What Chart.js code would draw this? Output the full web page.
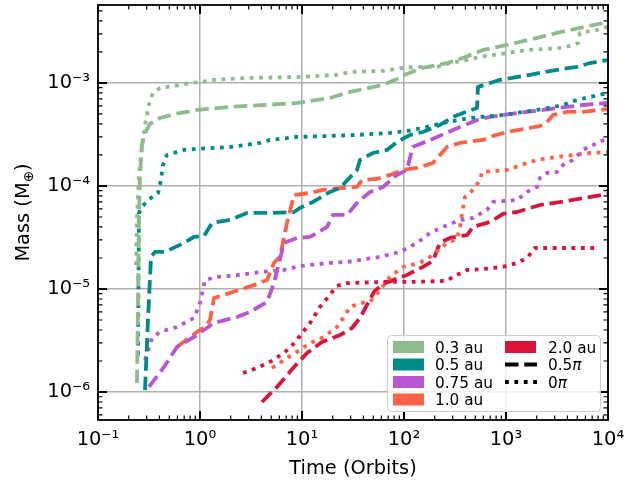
<!DOCTYPE html>
<html>
<head>
<meta charset="utf-8">
<script src="https://cdn.jsdelivr.net/npm/chart.js@4.4.1/dist/chart.umd.min.js"></script>
<style>
  html, body { margin: 0; padding: 0; background: #ffffff; }
  #wrap { width: 625px; height: 483px; position: relative; }
</style>
</head>
<body>
<div id="wrap"><canvas id="c"></canvas></div>
<script>
// ---- data: time in orbits, mass in Earth masses ----
// 0.3 au
const t03Dash = [0.241, 0.247, 0.252, 0.258, 0.270, 0.289, 0.323, 0.405, 0.569, 0.935, 1.97, 4.24, 8.93, 18.8, 29.6, 62.2, 85.3, 102, 153, 264, 379, 595, 1023, 2014, 3162, 5311, 10000];
const m03Dash = [1.22e-6, 7.82e-6, 4.68e-5, 1.28e-4, 2.50e-4, 3.27e-4, 4.0e-4, 4.57e-4, 5.0e-4, 5.47e-4, 5.85e-4, 6.11e-4, 6.39e-4, 7.15e-4, 8.18e-4, 9.57e-4, 1.09e-3, 1.20e-3, 1.40e-3, 1.56e-3, 1.75e-3, 2.09e-3, 2.34e-3, 2.74e-3, 3.06e-3, 3.42e-3, 3.91e-3];
const t03Dot = [0.236, 0.241, 0.252, 0.270, 0.289, 0.309, 0.323, 0.346, 0.405, 0.556, 0.798, 1.0, 1.371, 2.89, 8.93, 22.0, 29.6, 62.2, 97.8, 134, 211, 282, 415, 556, 1023, 1607, 3622, 4539, 5082, 5311, 7798, 10000];
const m03Dot = [1.71e-5, 4.68e-5, 1.28e-4, 2.50e-4, 3.91e-4, 5.47e-4, 6.84e-4, 8.0e-4, 8.94e-4, 9.35e-4, 1.0e-3, 1.02e-3, 1.07e-3, 1.12e-3, 1.14e-3, 1.20e-3, 1.28e-3, 1.31e-3, 1.40e-3, 1.43e-3, 1.43e-3, 1.56e-3, 1.67e-3, 1.79e-3, 1.95e-3, 2.09e-3, 2.19e-3, 2.34e-3, 2.44e-3, 3.06e-3, 3.27e-3, 3.50e-3];
// 0.5 au
const t05Dash = [0.289, 0.309, 0.331, 0.362, 0.454, 0.697, 0.873, 1.094, 1.311, 1.97, 2.89, 4.85, 8.35, 9.55, 12.8, 18.8, 23.6, 34.6, 37.0, 49.7, 68.1, 85.3, 115, 153, 225, 302, 379, 520, 531, 697, 873, 1718, 3162, 4966, 6668, 10000];
const m05Dash = [1.045e-6, 5.0e-6, 2.05e-5, 2.29e-5, 2.29e-5, 2.80e-5, 3.20e-5, 3.27e-5, 4.37e-5, 4.68e-5, 5.47e-5, 5.47e-5, 5.59e-5, 6.11e-5, 7.0e-5, 8.75e-5, 9.57e-5, 1.43e-4, 1.79e-4, 2.09e-4, 2.24e-4, 2.67e-4, 3.13e-4, 3.34e-4, 3.91e-4, 4.68e-4, 5.11e-4, 5.72e-4, 9.15e-4, 1.0e-3, 1.07e-3, 1.20e-3, 1.34e-3, 1.43e-3, 1.56e-3, 1.67e-3];
const t05Dot = [0.247, 0.252, 0.270, 0.309, 0.388, 0.414, 0.434, 0.475, 0.697, 0.935, 1.97, 3.87, 4.85, 8.93, 18.8, 34.6, 72.9, 107, 153, 241, 444, 935, 2014, 3622, 4966, 6668, 10000];
const m05Dot = [2.29e-6, 5.47e-5, 6.25e-5, 7.31e-5, 8.55e-5, 1.14e-4, 1.60e-4, 2.0e-4, 2.24e-4, 2.29e-4, 2.39e-4, 2.62e-4, 2.80e-4, 2.99e-4, 3.06e-4, 3.13e-4, 3.27e-4, 3.42e-4, 3.66e-4, 4.09e-4, 4.57e-4, 4.89e-4, 5.47e-4, 6.11e-4, 6.84e-4, 7.31e-4, 8.0e-4];
// 0.75 au
const t075Dash = [0.316, 0.444, 0.595, 0.873, 1.094, 1.371, 2.305, 3.09, 4.54, 5.31, 6.66, 8.93, 12.0, 17.6, 20.1, 27.6, 34.6, 46.4, 62.2, 85.3, 107, 115, 122, 153, 211, 354, 520, 697, 1283, 2307, 3963, 5688, 10000];
const m075Dash = [1.12e-6, 1.75e-6, 2.74e-6, 3.42e-6, 4.0e-6, 4.68e-6, 5.35e-6, 5.98e-6, 7.48e-6, 1.14e-5, 2.80e-5, 3.13e-5, 3.20e-5, 4.0e-5, 5.23e-5, 5.23e-5, 6.84e-5, 8.75e-5, 9.78e-5, 1.28e-4, 1.43e-4, 1.91e-4, 2.39e-4, 2.62e-4, 2.99e-4, 3.74e-4, 4.37e-4, 4.68e-4, 5.11e-4, 5.47e-4, 5.85e-4, 6.11e-4, 6.39e-4];
const t075Dot = [0.289, 0.338, 0.405, 0.595, 0.873, 1.0, 1.12, 1.468, 2.466, 3.87, 6.66, 9.55, 18.8, 27.6, 58.2, 91.4, 134, 180, 241, 354, 474, 652, 746, 1283, 1607, 2014, 2154, 2523, 3162, 3622, 4539, 5688, 7129, 10000];
const m075Dot = [2.05e-6, 3.34e-6, 3.83e-6, 4.28e-6, 5.23e-6, 7.31e-6, 1.22e-5, 1.31e-5, 1.37e-5, 1.46e-5, 1.53e-5, 1.67e-5, 1.79e-5, 1.83e-5, 2.05e-5, 2.29e-5, 2.80e-5, 3.50e-5, 4.0e-5, 4.68e-5, 4.89e-5, 5.85e-5, 7.0e-5, 7.31e-5, 8.75e-5, 9.78e-5, 1.20e-4, 1.34e-4, 1.37e-4, 1.60e-4, 1.79e-4, 2.24e-4, 2.50e-4, 2.92e-4];
// 1.0 au
const t10Dash = [0.595, 0.935, 1.12, 1.253, 1.371, 2.106, 3.38, 4.54, 5.31, 6.08, 7.13, 8.35, 12.0, 16.1, 25.2, 34.6, 38.7, 54.3, 72.9, 97.8, 134, 192, 225, 264, 354, 595, 746, 1023, 2154, 2523, 2890, 3963, 5688, 10000];
const m10Dash = [2.74e-6, 3.83e-6, 4.28e-6, 5.0e-6, 8.18e-6, 9.35e-6, 1.09e-5, 1.22e-5, 1.79e-5, 2.05e-5, 4.37e-5, 8.18e-5, 8.55e-5, 9.15e-5, 9.57e-5, 9.78e-5, 1.14e-4, 1.17e-4, 1.28e-4, 1.43e-4, 1.50e-4, 1.67e-4, 2.0e-4, 2.39e-4, 2.62e-4, 2.80e-4, 3.06e-4, 3.34e-4, 3.82e-4, 4.18e-4, 4.89e-4, 5.23e-4, 5.23e-4, 5.59e-4];
const t10Dot = [5.08, 6.66, 9.55, 12.0, 16.4, 22.0, 25.8, 29.6, 37.0, 46.4, 58.2, 72.9, 97.8, 143, 192, 264, 331, 354, 371, 396, 474, 556, 582, 1023, 1607, 2014, 2698, 4539, 6668, 10000];
const m10Dot = [1.71e-6, 2.05e-6, 2.56e-6, 2.99e-6, 3.42e-6, 4.28e-6, 5.35e-6, 6.68e-6, 7.31e-6, 7.48e-6, 9.78e-6, 1.31e-5, 1.64e-5, 1.79e-5, 2.14e-5, 2.80e-5, 3.06e-5, 4.0e-5, 5.47e-5, 7.82e-5, 9.15e-5, 1.14e-4, 1.37e-4, 1.43e-4, 1.67e-4, 1.79e-4, 1.87e-4, 2.0e-4, 2.09e-4, 2.14e-4];
// 2.0 au
const t20Dash = [4.05, 5.69, 8.35, 11.2, 15.7, 23.6, 30.9, 37.0, 43.4, 50.8, 62.2, 107, 153, 192, 225, 282, 415, 474, 697, 935, 1283, 2154, 4539, 10000];
const m20Dash = [8.0e-7, 1.12e-6, 1.75e-6, 2.39e-6, 3.06e-6, 3.57e-6, 4.18e-6, 5.23e-6, 7.0e-6, 9.35e-6, 1.12e-5, 1.37e-5, 1.64e-5, 1.87e-5, 2.80e-5, 3.13e-5, 3.34e-5, 4.0e-5, 4.47e-5, 5.35e-5, 5.59e-5, 6.54e-5, 7.31e-5, 8.36e-5];
const t20Dot = [2.64, 3.62, 5.31, 7.62, 9.55, 12.0, 15.0, 22.0, 27.6, 58.2, 122, 264, 302, 415, 595, 935, 1283, 1607, 1923, 3963, 7798];
const m20Dot = [1.53e-6, 1.71e-6, 2.05e-6, 2.67e-6, 3.50e-6, 4.68e-6, 6.68e-6, 1.07e-5, 1.14e-5, 1.17e-5, 1.17e-5, 1.20e-5, 1.31e-5, 1.53e-5, 1.56e-5, 1.64e-5, 1.79e-5, 2.0e-5, 2.50e-5, 2.50e-5, 2.50e-5];

// legend / category labels
const radii = ['0.3 au', '0.5 au', '0.75 au', '1.0 au', '2.0 au'];
const phases = ['0.5', '0'];   // multiples of pi, drawn as "0.5π" and "0π"

// tick labels
const xTickValues = [0.1, 1, 10, 100, 1000, 10000];
const xTickLabels = ['10⁻¹', '10⁰', '10¹', '10²', '10³', '10⁴'];
const yTickValues = [1e-6, 1e-5, 1e-4, 1e-3];
const yTickLabels = ['10⁻⁶', '10⁻⁵', '10⁻⁴', '10⁻³'];

// ---- styling ----
const radiusColor = {
  '0.3 au': '#8fbc8f',
  '0.5 au': '#008b8b',
  '0.75 au': '#ba55d3',
  '1.0 au': '#ff6347',
  '2.0 au': '#dc143c'
};
const LINE_W = 3.8;
const DASHED = [13.5, 5.8];
const DOTTED = [3.8, 5.6];
const FONT = '"DejaVu Sans", "Liberation Sans", sans-serif';
const TICK_FS = 19.4;
const LEGEND_FS = 15.3;

const runs = [
  { radius: '0.3 au', dash: DASHED, t: t03Dash, m: m03Dash },
  { radius: '0.3 au', dash: DOTTED, t: t03Dot, m: m03Dot },
  { radius: '0.5 au', dash: DASHED, t: t05Dash, m: m05Dash },
  { radius: '0.5 au', dash: DOTTED, t: t05Dot, m: m05Dot },
  { radius: '0.75 au', dash: DASHED, t: t075Dash, m: m075Dash },
  { radius: '0.75 au', dash: DOTTED, t: t075Dot, m: m075Dot },
  { radius: '1.0 au', dash: DASHED, t: t10Dash, m: m10Dash },
  { radius: '1.0 au', dash: DOTTED, t: t10Dot, m: m10Dot },
  { radius: '2.0 au', dash: DASHED, t: t20Dash, m: m20Dash },
  { radius: '2.0 au', dash: DOTTED, t: t20Dot, m: m20Dot }
];

const datasets = runs.map(r => ({
  label: r.radius,
  data: r.t.map((x, i) => ({ x: x, y: r.m[i] })),
  showLine: true,
  borderColor: radiusColor[r.radius],
  borderWidth: LINE_W,
  borderDash: r.dash,
  borderCapStyle: 'butt',
  borderJoinStyle: 'round',
  pointRadius: 0,
  fill: false,
  tension: 0
}));

function isDecade(v) {
  if (!(v > 0)) return false;
  const l = Math.log10(v);
  return Math.abs(l - Math.round(l)) < 1e-6;
}
function labelFor(v, values, labels) {
  for (let i = 0; i < values.length; i++) {
    if (Math.abs(Math.log10(v) - Math.log10(values[i])) < 1e-6) return labels[i];
  }
  return '';
}
const gridColor = c => (c.tick && isDecade(c.tick.value)) ? '#b0b0b0' : 'rgba(0,0,0,0)';

// frame, inward ticks on all four sides, axis titles and legend
const axesDecor = {
  id: 'axesDecor',
  afterDatasetsDraw(chart) {
    const { ctx, chartArea: a } = chart;
    const xs = chart.scales.x, ys = chart.scales.y;
    const logTicks = (min, max) => {
      const out = [];
      for (let d = Math.floor(Math.log10(min)); d <= Math.ceil(Math.log10(max)); d++) {
        for (let k = 1; k <= 9; k++) {
          const v = k * Math.pow(10, d);
          if (v >= min * 0.9999 && v <= max * 1.0001) out.push({ v: v, major: k === 1 });
        }
      }
      return out;
    };
    ctx.save();
    ctx.strokeStyle = '#000';
    ctx.lineCap = 'butt';
    for (const tk of logTicks(xs.min, xs.max)) {
      const px = xs.getPixelForValue(tk.v);
      const len = tk.major ? 9 : 4.5;
      ctx.lineWidth = tk.major ? 2 : 1.2;
      ctx.beginPath();
      ctx.moveTo(px, a.bottom); ctx.lineTo(px, a.bottom - len);
      ctx.moveTo(px, a.top); ctx.lineTo(px, a.top + len);
      ctx.stroke();
    }
    for (const tk of logTicks(ys.min, ys.max)) {
      const py = ys.getPixelForValue(tk.v);
      const len = tk.major ? 9 : 4.5;
      ctx.lineWidth = tk.major ? 2 : 1.2;
      ctx.beginPath();
      ctx.moveTo(a.left, py); ctx.lineTo(a.left + len, py);
      ctx.moveTo(a.right, py); ctx.lineTo(a.right - len, py);
      ctx.stroke();
    }
    ctx.lineWidth = 1.8;
    ctx.strokeRect(a.left, a.top, a.right - a.left, a.bottom - a.top);

    // axis titles
    ctx.fillStyle = '#000';
    ctx.textBaseline = 'alphabetic';
    ctx.textAlign = 'center';
    ctx.font = TICK_FS + 'px ' + FONT;
    ctx.fillText('Time (Orbits)', (a.left + a.right) / 2, 474);

    ctx.save();
    ctx.translate(29, (a.top + a.bottom) / 2);
    ctx.rotate(-Math.PI / 2);
    ctx.textAlign = 'left';
    const big = TICK_FS + 'px ' + FONT, small = (TICK_FS * 0.7) + 'px ' + FONT;
    ctx.font = big; const w1 = ctx.measureText('Mass (M').width;
    ctx.font = small; const w2 = ctx.measureText('⊕').width;
    ctx.font = big; const w3 = ctx.measureText(')').width;
    let x0 = -(w1 + w2 + w3) / 2;
    ctx.font = big; ctx.fillText('Mass (M', x0, 0);
    ctx.font = small; ctx.fillText('⊕', x0 + w1, 4);
    ctx.font = big; ctx.fillText(')', x0 + w1 + w2, 0);
    ctx.restore();

    // legend
    const bx = 387.5, by = 335.5, bw = 213, bh = 76, r = 4;
    ctx.beginPath();
    ctx.moveTo(bx + r, by);
    ctx.lineTo(bx + bw - r, by); ctx.quadraticCurveTo(bx + bw, by, bx + bw, by + r);
    ctx.lineTo(bx + bw, by + bh - r); ctx.quadraticCurveTo(bx + bw, by + bh, bx + bw - r, by + bh);
    ctx.lineTo(bx + r, by + bh); ctx.quadraticCurveTo(bx, by + bh, bx, by + bh - r);
    ctx.lineTo(bx, by + r); ctx.quadraticCurveTo(bx, by, bx + r, by);
    ctx.closePath();
    ctx.fillStyle = 'rgba(255,255,255,0.8)';
    ctx.fill();
    ctx.strokeStyle = '#cccccc';
    ctx.lineWidth = 1;
    ctx.stroke();

    const rows = [347, 364.5, 382, 399.5];
    const col = [{ hx: 393, tx: 435 }, { hx: 505, tx: 548 }];
    const hw = 31;
    const items = [];
    radii.forEach(rad => items.push({ kind: 'patch', color: radiusColor[rad], text: rad }));
    const colItems = [items.slice(0, 4), [items[4],
      { kind: 'line', dash: DASHED, text: phases[0] },
      { kind: 'line', dash: DOTTED, text: phases[1] }]];
    ctx.textAlign = 'left';
    colItems.forEach((list, ci) => {
      list.forEach((it, ri) => {
        const cy = rows[ri];
        const hx = col[ci].hx;
        if (it.kind === 'patch') {
          ctx.fillStyle = it.color;
          ctx.fillRect(hx, cy - 6, hw, 12);
        } else {
          ctx.save();
          ctx.strokeStyle = '#000';
          ctx.lineWidth = LINE_W;
          ctx.setLineDash(it.dash);
          ctx.beginPath();
          ctx.moveTo(hx, cy); ctx.lineTo(hx + hw + 1, cy);
          ctx.stroke();
          ctx.restore();
        }
        ctx.fillStyle = '#000';
        const base = cy + 5.6;
        ctx.font = LEGEND_FS + 'px ' + FONT;
        ctx.fillText(it.text, col[ci].tx, base);
        if (it.kind !== 'patch') {
          const w = ctx.measureText(it.text).width;
          ctx.font = 'italic ' + LEGEND_FS + 'px ' + FONT;
          ctx.fillText('π', col[ci].tx + w, base);
        }
      });
    });
    ctx.restore();
  }
};

new Chart(document.getElementById('c'), {
  type: 'scatter',
  data: { datasets: datasets },
  options: {
    responsive: true,
    maintainAspectRatio: false,
    animation: false,
    devicePixelRatio: 1,
    layout: { padding: { top: 5, right: 17, left: 0, bottom: 0 } },
    plugins: { legend: { display: false }, tooltip: { enabled: false } },
    scales: {
      x: {
        type: 'logarithmic',
        position: 'bottom',
        min: 0.1,
        max: 10000,
        grid: { color: gridColor, lineWidth: 1.5, drawTicks: false },
        border: { display: false },
        ticks: {
          autoSkip: false, maxRotation: 0, minRotation: 0, padding: 8,
          color: '#000', font: { family: FONT, size: TICK_FS },
          callback: v => labelFor(v, xTickValues, xTickLabels)
        },
        afterFit: s => { s.height = 63; s.paddingLeft = 0; s.paddingRight = 0; }
      },
      y: {
        type: 'logarithmic',
        position: 'left',
        min: 5.35e-7,
        max: 5.71e-3,
        grid: { color: gridColor, lineWidth: 1.5, drawTicks: false },
        border: { display: false },
        ticks: {
          autoSkip: false, padding: 8,
          color: '#000', font: { family: FONT, size: TICK_FS },
          callback: v => labelFor(v, yTickValues, yTickLabels)
        },
        afterFit: s => { s.width = 98; s.paddingTop = 0; s.paddingBottom = 0; }
      }
    }
  },
  plugins: [axesDecor]
});
</script>
</body>
</html>
